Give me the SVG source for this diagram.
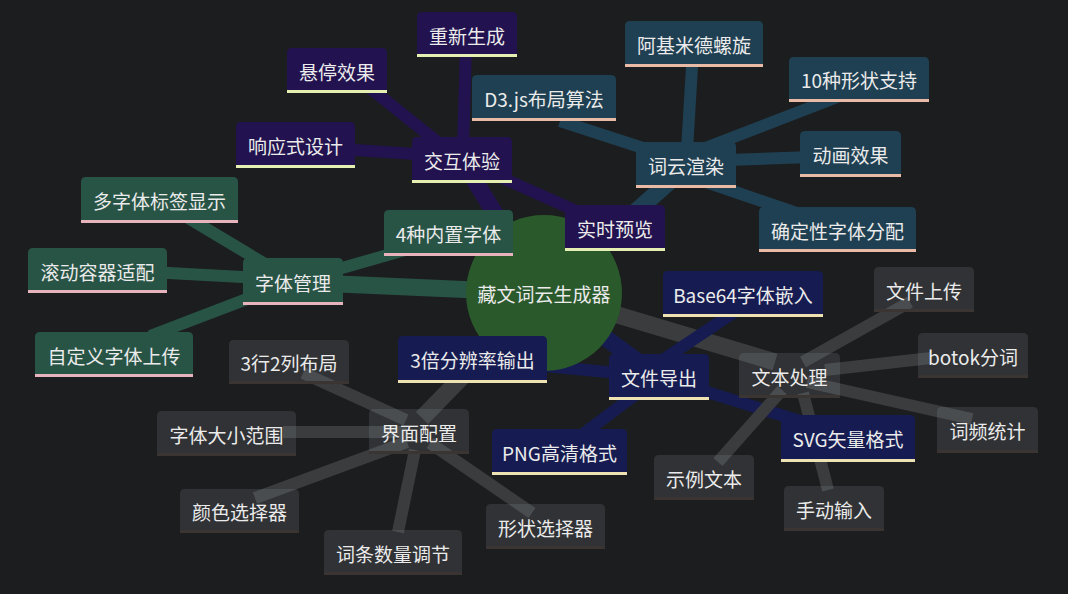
<svg xmlns="http://www.w3.org/2000/svg" width="1068" height="594" viewBox="0 0 1068 594">
<style>
.bg{fill:#1c1d1f}
.e{fill:none;stroke-linecap:butt}
.r{stroke-width:17}
.l{stroke-width:12}
.ep{stroke:#22124f}.et{stroke:#1f4052}.eg{stroke:#285446}.en{stroke:#161c52}.ek{stroke:#3a3c3e}
.p .b{fill:#22124f}.p .u{fill:#e5efb1}
.t .b{fill:#1f4052}.t .u{fill:#e9bba7}
.g .b{fill:#285446}.g .u{fill:#e7b3bd}
.n .b{fill:#161c52}.n .u{fill:#efe2b2}
.k .b{fill:#c8cdd2;fill-opacity:0.12}.k .u{fill:#3a3433}
text{font-family:"Noto Sans CJK SC","Noto Sans CJK JP",sans-serif;font-size:19px;fill:#ebebeb;text-anchor:middle;dominant-baseline:central}
</style>
<rect class="bg" x="0" y="0" width="1068" height="594"/>
<g id="connectors">
<line class="e r ep" x1="544" y1="293" x2="462" y2="160"/>
<line class="e r et" x1="544" y1="293" x2="686" y2="167"/>
<line class="e r eg" x1="544" y1="293" x2="293" y2="282"/>
<line class="e r en" x1="544" y1="293" x2="659" y2="377"/>
<line class="e r ek" x1="544" y1="293" x2="775" y2="362"/>
<line class="e r ek" x1="544" y1="293" x2="422" y2="418"/>
<line class="e l ep" x1="463" y1="150" x2="466" y2="45"/>
<line class="e l ep" x1="445" y1="148" x2="360" y2="80"/>
<line class="e l ep" x1="430" y1="155" x2="340" y2="149"/>
<line class="e l ep" x1="480" y1="168" x2="610" y2="226"/>
<line class="e l et" x1="687" y1="150" x2="693" y2="50"/>
<line class="e l et" x1="686" y1="162" x2="560" y2="121"/>
<line class="e l et" x1="700" y1="150" x2="840" y2="96"/>
<line class="e l et" x1="700" y1="161" x2="840" y2="156"/>
<line class="e l et" x1="700" y1="180" x2="820" y2="221"/>
<line class="e l eg" x1="270" y1="267" x2="180" y2="213"/>
<line class="e l eg" x1="260" y1="278" x2="150" y2="272"/>
<line class="e l eg" x1="260" y1="294" x2="150" y2="336"/>
<line class="e l eg" x1="300" y1="280" x2="440" y2="240"/>
<line class="e l en" x1="659" y1="377" x2="472" y2="359"/>
<line class="e l en" x1="659" y1="377" x2="559" y2="452"/>
<line class="e l en" x1="659" y1="377" x2="848" y2="436"/>
<line class="e l en" x1="640" y1="375" x2="760" y2="295"/>
<line class="e l ek" x1="803" y1="362" x2="910" y2="302"/>
<line class="e l ek" x1="825" y1="370" x2="931" y2="358"/>
<line class="e l ek" x1="807" y1="382" x2="972" y2="419"/>
<line class="e l ek" x1="782" y1="390" x2="718" y2="462"/>
<line class="e l ek" x1="803" y1="393" x2="828" y2="490"/>
<line class="e l ek" x1="406" y1="420" x2="303" y2="373"/>
<line class="e l ek" x1="407" y1="432" x2="283" y2="432"/>
<line class="e l ek" x1="407" y1="442" x2="255" y2="498"/>
<line class="e l ek" x1="415" y1="450" x2="398" y2="532"/>
<line class="e l ek" x1="430" y1="443" x2="532" y2="513"/>
</g>
<g id="root"><circle cx="544" cy="293" r="78" fill="#2a592b"/><text x="544" y="293">藏文词云生成器</text></g>
<g id="n-jiaohu" class="p"><path class="b" d="M412,180V142Q412,137 417,137H507Q512,137 512,142V180Z"/><rect class="u" x="412" y="180" width="100" height="3"/><text x="462" y="160">交互体验</text></g>
<g id="n-chongxin" class="p"><path class="b" d="M417,54V17Q417,12 422,12H512Q517,12 517,17V54Z"/><rect class="u" x="417" y="54" width="100" height="3"/><text x="467" y="35">重新生成</text></g>
<g id="n-xuanting" class="p"><path class="b" d="M287,90V53Q287,48 292,48H382Q387,48 387,53V90Z"/><rect class="u" x="287" y="90" width="100" height="3"/><text x="337" y="71">悬停效果</text></g>
<g id="n-xiangying" class="p"><path class="b" d="M236,165V127Q236,122 241,122H350Q355,122 355,127V165Z"/><rect class="u" x="236" y="165" width="119" height="3"/><text x="295.5" y="145">响应式设计</text></g>
<g id="n-shishi" class="p"><path class="b" d="M565,248V210Q565,205 570,205H660Q665,205 665,210V248Z"/><rect class="u" x="565" y="248" width="100" height="3"/><text x="615" y="228">实时预览</text></g>
<g id="n-ciyun" class="t"><path class="b" d="M636,185V147Q636,142 641,142H731Q736,142 736,147V185Z"/><rect class="u" x="636" y="185" width="100" height="3"/><text x="686" y="165">词云渲染</text></g>
<g id="n-ajimide" class="t"><path class="b" d="M625,64V26Q625,21 630,21H758Q763,21 763,26V64Z"/><rect class="u" x="625" y="64" width="138" height="3"/><text x="694" y="44">阿基米德螺旋</text></g>
<g id="n-d3" class="t"><path class="b" d="M472,118V80Q472,75 477,75H611Q616,75 616,80V118Z"/><rect class="u" x="472" y="118" width="144" height="3"/><text x="544" y="98">D3.js布局算法</text></g>
<g id="n-shape10" class="t"><path class="b" d="M789,99V62Q789,57 794,57H924Q929,57 929,62V99Z"/><rect class="u" x="789" y="99" width="140" height="3"/><text x="859" y="79.5">10种形状支持</text></g>
<g id="n-donghua" class="t"><path class="b" d="M800,174V136Q800,131 805,131H896Q901,131 901,136V174Z"/><rect class="u" x="800" y="174" width="101" height="3"/><text x="850.5" y="154">动画效果</text></g>
<g id="n-queding" class="t"><path class="b" d="M759,249V212Q759,207 764,207H911Q916,207 916,212V249Z"/><rect class="u" x="759" y="249" width="157" height="3"/><text x="837.5" y="230">确定性字体分配</text></g>
<g id="n-ziti" class="g"><path class="b" d="M243,302V263Q243,258 248,258H338Q343,258 343,263V302Z"/><rect class="u" x="243" y="302" width="100" height="3"/><text x="293" y="282">字体管理</text></g>
<g id="n-duoziti" class="g"><path class="b" d="M81,220V182Q81,177 86,177H233Q238,177 238,182V220Z"/><rect class="u" x="81" y="220" width="157" height="3"/><text x="159.5" y="200">多字体标签显示</text></g>
<g id="n-gundong" class="g"><path class="b" d="M28,290V253Q28,248 33,248H162Q167,248 167,253V290Z"/><rect class="u" x="28" y="290" width="139" height="3"/><text x="97.5" y="271">滚动容器适配</text></g>
<g id="n-zidingyi" class="g"><path class="b" d="M35,374V337Q35,332 40,332H188Q193,332 193,337V374Z"/><rect class="u" x="35" y="374" width="158" height="3"/><text x="114" y="355">自定义字体上传</text></g>
<g id="n-neizhi" class="g"><path class="b" d="M384,253V215Q384,210 389,210H508Q513,210 513,215V253Z"/><rect class="u" x="384" y="253" width="129" height="3"/><text x="448.5" y="233">4种内置字体</text></g>
<g id="n-daochu" class="n"><path class="b" d="M609,397V359Q609,354 614,354H704Q709,354 709,359V397Z"/><rect class="u" x="609" y="397" width="100" height="3"/><text x="659" y="377">文件导出</text></g>
<g id="n-base64" class="n"><path class="b" d="M663,314V276Q663,271 668,271H818Q823,271 823,276V314Z"/><rect class="u" x="663" y="314" width="160" height="3"/><text x="743" y="294">Base64字体嵌入</text></g>
<g id="n-3bei" class="n"><path class="b" d="M398,380V341Q398,336 403,336H542Q547,336 547,341V380Z"/><rect class="u" x="398" y="380" width="149" height="3"/><text x="472.5" y="359">3倍分辨率输出</text></g>
<g id="n-png" class="n"><path class="b" d="M492,472V434Q492,429 497,429H622Q627,429 627,434V472Z"/><rect class="u" x="492" y="472" width="135" height="3"/><text x="559.5" y="452">PNG高清格式</text></g>
<g id="n-svg" class="n"><path class="b" d="M781,459V420Q781,415 786,415H910Q915,415 915,420V459Z"/><rect class="u" x="781" y="459" width="134" height="3"/><text x="848" y="438">SVG矢量格式</text></g>
<g id="n-wenben" class="k"><path class="b" d="M739,395V358Q739,353 744,353H835Q840,353 840,358V395Z"/><rect class="u" x="739" y="395" width="101" height="3"/><text x="789.5" y="376">文本处理</text></g>
<g id="n-shangchuan" class="k"><path class="b" d="M874,309V272Q874,267 879,267H969Q974,267 974,272V309Z"/><rect class="u" x="874" y="309" width="100" height="3"/><text x="924" y="290">文件上传</text></g>
<g id="n-botok" class="k"><path class="b" d="M918,375V338Q918,333 923,333H1023Q1028,333 1028,338V375Z"/><rect class="u" x="918" y="375" width="110" height="3"/><text x="973" y="356">botok分词</text></g>
<g id="n-cipin" class="k"><path class="b" d="M937,450V412Q937,407 942,407H1033Q1038,407 1038,412V450Z"/><rect class="u" x="937" y="450" width="101" height="3"/><text x="987.5" y="430">词频统计</text></g>
<g id="n-shili" class="k"><path class="b" d="M654,497V460Q654,455 659,455H749Q754,455 754,460V497Z"/><rect class="u" x="654" y="497" width="100" height="3"/><text x="704" y="478">示例文本</text></g>
<g id="n-shoudong" class="k"><path class="b" d="M784,528V491Q784,486 789,486H879Q884,486 884,491V528Z"/><rect class="u" x="784" y="528" width="100" height="3"/><text x="834" y="509">手动输入</text></g>
<g id="n-jiemian" class="k"><path class="b" d="M369,451V414Q369,409 374,409H464Q469,409 469,414V451Z"/><rect class="u" x="369" y="451" width="100" height="3"/><text x="419" y="432">界面配置</text></g>
<g id="n-buju" class="k"><path class="b" d="M229,381V345Q229,340 234,340H344Q349,340 349,345V381Z"/><rect class="u" x="229" y="381" width="120" height="3"/><text x="289" y="362">3行2列布局</text></g>
<g id="n-daxiao" class="k"><path class="b" d="M157,453V416Q157,411 162,411H291Q296,411 296,416V453Z"/><rect class="u" x="157" y="453" width="139" height="3"/><text x="226.5" y="434">字体大小范围</text></g>
<g id="n-yanse" class="k"><path class="b" d="M180,530V494Q180,489 185,489H294Q299,489 299,494V530Z"/><rect class="u" x="180" y="530" width="119" height="3"/><text x="239.5" y="511">颜色选择器</text></g>
<g id="n-citiao" class="k"><path class="b" d="M324,572V535Q324,530 329,530H457Q462,530 462,535V572Z"/><rect class="u" x="324" y="572" width="138" height="3"/><text x="393" y="553">词条数量调节</text></g>
<g id="n-xingzhuang" class="k"><path class="b" d="M486,546V509Q486,504 491,504H600Q605,504 605,509V546Z"/><rect class="u" x="486" y="546" width="119" height="3"/><text x="545.5" y="527">形状选择器</text></g>
</svg>
